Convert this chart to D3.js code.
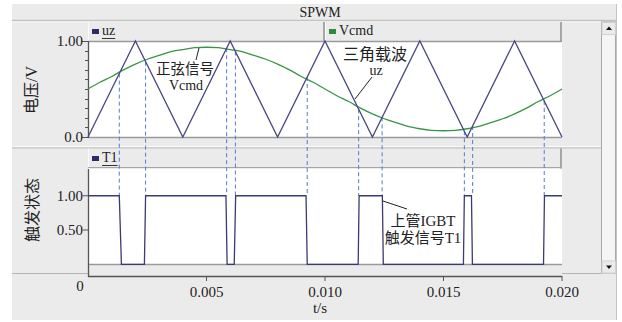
<!DOCTYPE html>
<html><head><meta charset="utf-8">
<script src="https://cdn.jsdelivr.net/npm/d3@7"></script>
<style>
html,body{margin:0;padding:0;background:#fff;}
svg{display:block;}
text{font-family:"Liberation Serif","Noto Sans CJK SC",serif;fill:#222;}
</style></head><body>
<svg id="c" width="622" height="322"></svg>
<script>
// ---- data (time in ms) ----
const carrierT = [0, 2, 4, 6, 8, 10, 12, 14, 16, 18, 20];
const carrierV = [0, 1, 0, 1, 0, 1, 0, 1, 0, 1, 0];
const sineT = [0,0.5,1,1.5,2,2.5,3,3.5,4,4.5,5,5.5,6,6.5,7,7.5,8,8.5,9,9.5,10,
               10.5,11,11.5,12,12.5,13,13.5,14,14.5,15,15.5,16,16.5,17,17.5,18,18.5,19,19.5,20];
const sineV = [0.50,0.57,0.63,0.70,0.76,0.81,0.85,0.89,0.91,0.93,0.935,0.93,0.91,0.89,0.85,0.81,0.76,0.70,0.63,0.57,0.50,
               0.43,0.37,0.30,0.24,0.19,0.15,0.11,0.086,0.07,0.065,0.07,0.086,0.11,0.15,0.19,0.24,0.30,0.37,0.43,0.50];
const pulseT = [0,1.32,1.41,2.38,2.43,5.82,5.87,6.17,6.23,9.20,9.25,11.40,11.44,12.42,12.46,15.84,15.88,16.18,16.22,19.22,19.26,20];
const pulseV = [1,1,0,0,1,1,0,0,1,1,0,0,1,1,0,0,1,1,0,0,1,1];
const crossT = [1.32,2.43,5.85,6.22,9.25,11.42,12.41,15.88,16.23,19.25];
const xTicks = [0.005,0.010,0.015,0.020];
const xTickLabels = ["0.005","0.010","0.015","0.020"];
const topTicks = [0,1];
const topTickLabels = ["0.0","1.00"];
const botTicks = [0.5,1];
const botTickLabels = ["0.50","1.00"];

const svg = d3.select("#c");
const X0 = 88, X1 = 562;
const x = d3.scaleLinear().domain([0,0.020]).range([X0,X1]);
const yT = d3.scaleLinear().domain([0,1]).range([137,41]);
const yB = d3.scaleLinear().domain([0,1.39]).range([264.3,169]);

// background frame
svg.append("rect").attr("x",12).attr("y",4).attr("width",604).attr("height",316).attr("fill","#ebebeb");
svg.append("line").attr("x1",616.5).attr("x2",616.5).attr("y1",4).attr("y2",320).attr("stroke","#c4c4c4");
// title band separator
svg.append("line").attr("x1",12).attr("x2",616).attr("y1",20.5).attr("y2",20.5).attr("stroke","#c2c2c2").attr("stroke-width",1.5);
svg.append("line").attr("x1",12).attr("x2",601).attr("y1",22).attr("y2",22).attr("stroke","#fafafa");
svg.append("text").attr("x",320).attr("y",17).attr("text-anchor","middle").attr("font-size",14).text("SPWM");

// header boxes
function hbox(x0,x1,y0,y1){
  const g=svg.append("g");
  g.append("rect").attr("x",x0).attr("y",y0).attr("width",x1-x0).attr("height",y1-y0).attr("fill","#ebebeb");
  g.append("line").attr("x1",x0+0.5).attr("x2",x0+0.5).attr("y1",y0).attr("y2",y1).attr("stroke","#fbfbfb");
  g.append("line").attr("x1",x1-1).attr("x2",x1-1).attr("y1",y0).attr("y2",y1).attr("stroke","#a6a6a6").attr("stroke-width",2);
}
hbox(X0,325,22,41);
hbox(325,X1,22,41);
hbox(X0,X1,148,168.5);
svg.append("line").attr("x1",X0).attr("x2",X1).attr("y1",167.5).attr("y2",167.5).attr("stroke","#a6a6a6");

// legends
function legend(x0,y0,color,label,underline){
  svg.append("rect").attr("x",x0).attr("y",y0-5).attr("width",7).attr("height",5).attr("fill",color);
  const t=svg.append("text").attr("x",x0+10).attr("y",y0+1).attr("font-size",14).text(label);
  if(underline){
    const w=t.node().getComputedTextLength();
    svg.append("line").attr("x1",x0+10).attr("x2",x0+10+w).attr("y1",y0+4.5).attr("y2",y0+4.5).attr("stroke","#333");
  }
}
legend(92,34,"#2b2b6b","uz",true);
legend(329,34,"#2e8b3e","Vcmd",false);
legend(92,161,"#2b2b6b","T1",true);

// plot areas
svg.append("rect").attr("x",X0).attr("y",41).attr("width",X1-X0).attr("height",96).attr("fill","#fff");
svg.append("rect").attr("x",X0).attr("y",169).attr("width",X1-X0).attr("height",95).attr("fill","#fff");
svg.append("line").attr("x1",X0).attr("x2",X1).attr("y1",41.5).attr("y2",41.5).attr("stroke","#9a9a9a").attr("stroke-width",1.5);
svg.append("line").attr("x1",X0).attr("x2",X1).attr("y1",137.5).attr("y2",137.5).attr("stroke","#9a9a9a").attr("stroke-width",1.5);
svg.append("line").attr("x1",X0).attr("x2",X1).attr("y1",264.5).attr("y2",264.5).attr("stroke","#9a9a9a").attr("stroke-width",1.5);

// panel separator
svg.append("line").attr("x1",12).attr("x2",601).attr("y1",146.5).attr("y2",146.5).attr("stroke","#fbfbfb");
svg.append("line").attr("x1",12).attr("x2",601).attr("y1",147.8).attr("y2",147.8).attr("stroke","#c4c4c4").attr("stroke-width",1.2);
// bottom frame lines
svg.append("line").attr("x1",12).attr("x2",X0).attr("y1",273.5).attr("y2",273.5).attr("stroke","#b4b4b4");
svg.append("line").attr("x1",X1).attr("x2",601).attr("y1",273.5).attr("y2",273.5).attr("stroke","#b4b4b4");

// scrollbar
svg.append("rect").attr("x",601.5).attr("y",22).attr("width",14).attr("height",251).attr("fill","#f5f5f5").attr("stroke","#a8a8a8");
svg.append("rect").attr("x",602).attr("y",22.5).attr("width",13.5).attr("height",12).attr("fill","#ebebeb").attr("stroke","#d0d0d0");
svg.append("rect").attr("x",602).attr("y",261).attr("width",13.5).attr("height",12).attr("fill","#ebebeb").attr("stroke","#d0d0d0");
svg.append("path").attr("d","M606,30 L612,30 L609,26.5 Z").attr("fill","#111");
svg.append("path").attr("d","M606,265.5 L612,265.5 L609,269 Z").attr("fill","#111");

// axes
svg.append("line").attr("x1",X0+0.5).attr("x2",X0+0.5).attr("y1",41).attr("y2",138).attr("stroke","#555").attr("stroke-width",1.3);
svg.append("line").attr("x1",X0+0.5).attr("x2",X0+0.5).attr("y1",169).attr("y2",277).attr("stroke","#555").attr("stroke-width",1.3);
svg.append("line").attr("x1",X0).attr("x2",X1).attr("y1",276.5).attr("y2",276.5).attr("stroke","#555").attr("stroke-width",1.3);

// top y ticks (minor every 0.1)
const minor = d3.range(0,11).map(i=>i/10);
svg.selectAll(".mt").data(minor).join("line")
  .attr("x1",d=> (d===0||d===1)? X0-6 : X0-3).attr("x2",X0)
  .attr("y1",d=>Math.round(yT(d))+0.5).attr("y2",d=>Math.round(yT(d))+0.5)
  .attr("stroke","#555");
svg.selectAll(".tl").data(topTicks).join("text")
  .attr("x",X0-5).attr("y",d=>yT(d)+5).attr("text-anchor","end").attr("font-size",15)
  .text((d,i)=>topTickLabels[i]);
svg.selectAll(".bt").data(botTicks).join("line")
  .attr("x1",X0-5).attr("x2",X0).attr("y1",d=>yB(d)).attr("y2",d=>yB(d)).attr("stroke","#555");
svg.selectAll(".bl").data(botTicks).join("text")
  .attr("x",X0-5).attr("y",d=>yB(d)+5).attr("text-anchor","end").attr("font-size",15)
  .text((d,i)=>botTickLabels[i]);
// x ticks
svg.selectAll(".xt").data(xTicks).join("line")
  .attr("x1",d=>x(d)).attr("x2",d=>x(d)).attr("y1",276).attr("y2",281).attr("stroke","#555");
svg.selectAll(".xl").data(xTicks).join("text")
  .attr("x",d=>x(d)).attr("y",297).attr("text-anchor","middle").attr("font-size",15)
  .text((d,i)=>xTickLabels[i]);
svg.append("text").attr("x",80).attr("y",291).attr("text-anchor","middle").attr("font-size",15).text("0");
svg.append("text").attr("x",320).attr("y",313).attr("text-anchor","middle").attr("font-size",15).text("t/s");

// axis titles
svg.append("text").attr("transform","translate(37,90) rotate(-90)").attr("text-anchor","middle").attr("font-size",16).text("电压/V");
svg.append("text").attr("transform","translate(38,210) rotate(-90)").attr("text-anchor","middle").attr("font-size",16).text("触发状态");

// dashed crossing lines
const carrierAt = t => { const i = Math.min(carrierT.length-2, Math.floor(t/2)); const a=carrierT[i], b=carrierT[i+1];
  return carrierV[i] + (carrierV[i+1]-carrierV[i])*(t-a)/(b-a); };
svg.selectAll(".dl").data(crossT).join("line")
  .attr("x1",d=>x(d/1000)).attr("x2",d=>x(d/1000))
  .attr("y1",d=>yT(carrierAt(d))).attr("y2",yB(1))
  .attr("stroke","#4f7fcf").attr("stroke-width",1).attr("stroke-dasharray","4,3");

// lines
const lineTop = d3.line().x(d=>x(d[0]/1000)).y(d=>yT(d[1]));
svg.append("path").datum(sineT.map((t,i)=>[t,sineV[i]]))
  .attr("d",lineTop.curve(d3.curveMonotoneX)).attr("fill","none").attr("stroke","#3a9448").attr("stroke-width",1.3);
svg.append("path").datum(carrierT.map((t,i)=>[t,carrierV[i]]))
  .attr("d",d3.line().x(d=>x(d[0]/1000)).y(d=>yT(d[1]))).attr("fill","none").attr("stroke","#474785").attr("stroke-width",1.3);
svg.append("path").datum(pulseT.map((t,i)=>[t,pulseV[i]]))
  .attr("d",d3.line().x(d=>x(d[0]/1000)).y(d=>yB(d[1]))).attr("fill","none").attr("stroke","#3a3a78").attr("stroke-width",1.3);

// annotations
function leader(x1,y1,x2,y2){svg.append("line").attr("x1",x1).attr("y1",y1).attr("x2",x2).attr("y2",y2).attr("stroke","#222").attr("stroke-width",1);}
leader(199,48,196,60);
svg.append("text").attr("x",185).attr("y",74).attr("text-anchor","middle").attr("font-size",14.5).text("正弦信号");
svg.append("text").attr("x",186).attr("y",90).attr("text-anchor","middle").attr("font-size",14).text("Vcmd");
svg.append("text").attr("x",375).attr("y",60).attr("text-anchor","middle").attr("font-size",16).text("三角载波");
svg.append("text").attr("x",376).attr("y",75).attr("text-anchor","middle").attr("font-size",14).text("uz");
leader(372,77,355,99);
leader(383,201,407,209);
svg.append("text").attr("x",423).attr("y",226).attr("text-anchor","middle").attr("font-size",15).text("上管IGBT");
svg.append("text").attr("x",423).attr("y",243).attr("text-anchor","middle").attr("font-size",15).text("触发信号T1");
</script>
</body></html>
